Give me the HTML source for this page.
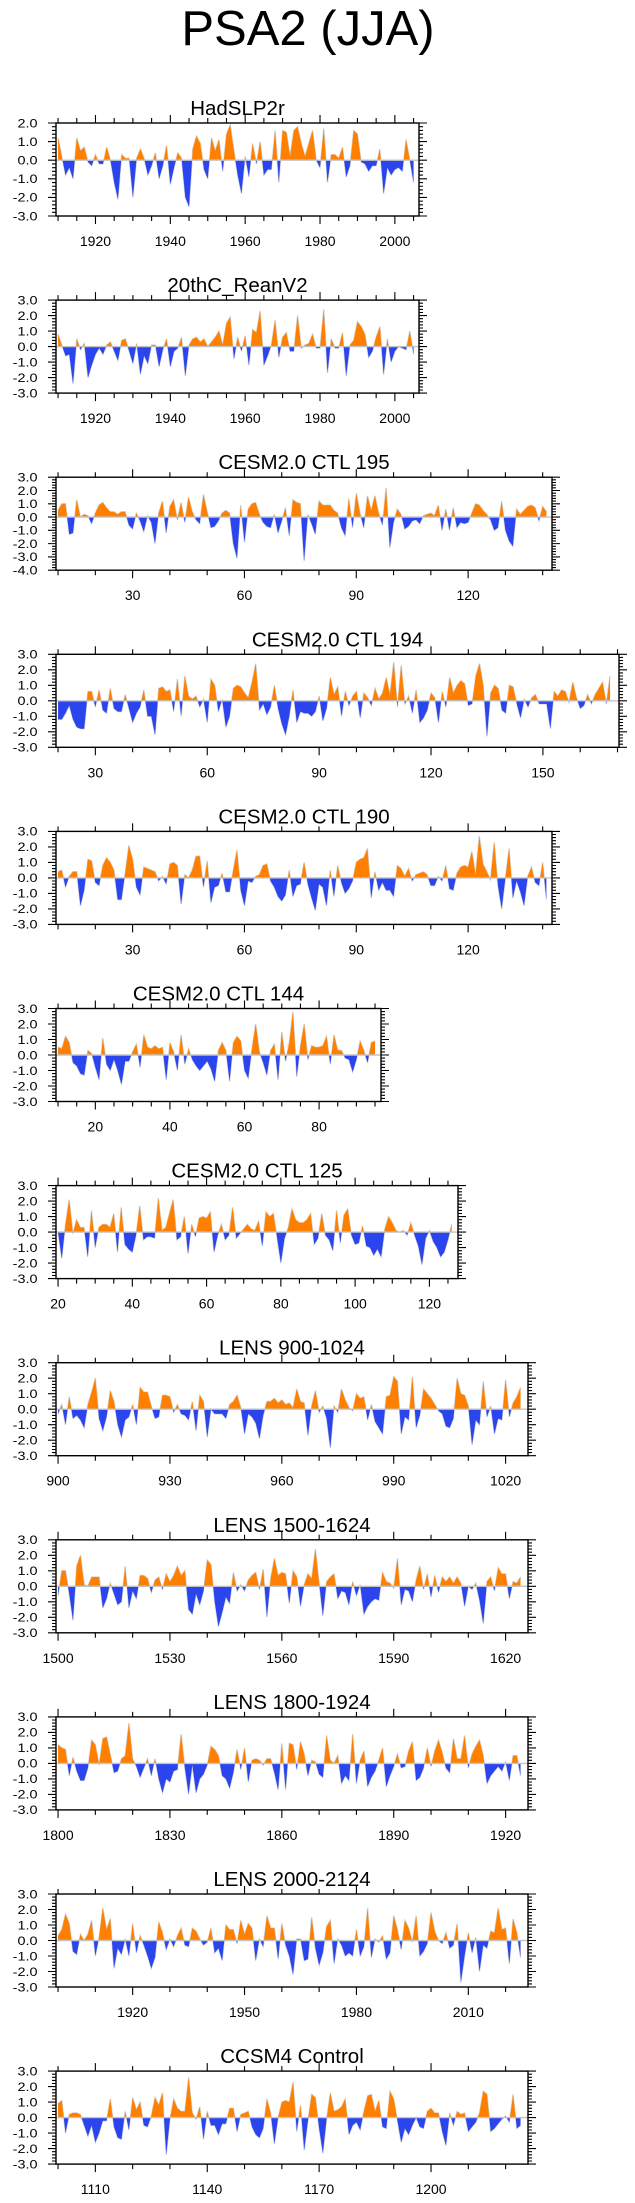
<!DOCTYPE html>
<html><head><meta charset="utf-8"><title>PSA2 (JJA)</title>
<style>html,body{margin:0;padding:0;background:#fff}svg{display:block}text{font-family:"Liberation Sans",Arial,sans-serif;fill:#000}</style>
</head><body>
<svg id="chart" xmlns="http://www.w3.org/2000/svg" width="635" height="2203" viewBox="0 0 635 2203">
<rect width="635" height="2203" fill="#fff"/>
<text x="308" y="45" font-size="49" text-anchor="middle">PSA2 (JJA)</text>
</svg>
<script>
const hadslp2r=[1.2,0.2,-0.8,-0.4,-1.0,1.2,0.5,0.7,-0.1,-0.3,0.3,-0.2,-0.2,0.7,0.0,-1.2,-2.1,0.3,0.1,0.1,-2.0,0.1,0.6,0.1,-0.8,-0.3,0.4,-1.0,-0.3,0.8,-1.3,-0.4,0.4,0.1,-2.0,-2.5,0.6,1.3,0.9,-0.5,-1.0,1.2,0.5,1.1,-0.6,1.4,1.9,0.5,-0.8,-1.8,0.2,-0.9,0.9,-0.2,1.0,-0.8,-0.5,-0.5,1.6,-1.2,1.6,1.5,0.2,1.6,1.8,0.9,0.2,0.9,1.6,0.0,-0.4,1.7,-1.2,0.3,0.3,0.1,0.7,-0.9,-0.3,1.6,1.4,-0.1,-0.2,-0.6,-0.3,-0.3,0.6,-1.8,-0.4,-0.8,-0.5,-0.4,-0.6,1.1,0.0,-1.2];
const reanv2=[0.8,0.1,-0.6,-0.5,-2.4,0.5,-0.2,0.2,-2.0,-1.2,-0.5,-0.1,-0.5,0.1,0.3,-0.3,-0.9,0.4,0.5,-0.3,-1.1,0.2,-1.8,-0.6,-1.1,0.1,0.1,-1.3,-0.2,0.5,-1.3,-0.3,-0.1,0.6,-1.9,0.1,0.5,0.6,0.3,0.5,0.0,0.3,0.6,1.0,0.1,1.5,1.9,-0.8,0.6,-0.3,0.7,-1.2,1.1,0.9,2.3,-1.2,-0.6,0.1,1.7,-0.7,0.6,0.9,-0.3,-0.3,2.0,-0.1,0.1,0.2,0.8,-0.1,-0.1,2.4,-1.7,0.5,-0.1,-0.1,0.9,-1.9,0.1,0.4,1.6,1.3,0.8,-0.7,-0.3,0.6,1.3,-1.8,0.5,-1.0,-0.3,0.0,-0.1,-0.2,1.0,-0.5];
const ctl195=[0.5,1.0,1.0,-1.3,-1.2,1.3,0.0,0.2,0.1,-0.5,0.3,0.9,1.1,0.7,0.4,0.4,0.2,0.4,0.4,-0.6,-0.9,0.3,-0.3,-1.1,0.1,-0.4,-2.0,0.3,1.2,-1.2,0.8,1.3,-0.2,1.1,-0.4,1.5,0.4,-0.2,-0.5,1.7,0.4,-0.8,-0.7,-0.3,0.3,0.5,0.3,-2.0,-3.1,0.9,-1.9,0.6,1.0,1.1,0.2,-0.4,-0.7,-0.8,0.2,-1.2,-0.3,0.7,-1.4,1.3,1.1,1.0,-3.3,0.2,-0.5,-1.3,1.2,0.9,0.9,0.9,0.5,0.3,-0.8,-1.4,1.4,-0.8,1.8,0.3,-0.8,1.6,0.5,1.6,0.3,-0.6,2.2,-2.3,-0.4,0.6,0.2,-0.9,-0.7,-0.3,-0.2,-0.5,0.1,0.2,0.3,0.1,0.9,-1.0,0.6,-1.0,0.7,-0.8,-0.4,-0.5,-0.4,0.3,1.0,0.9,0.5,0.2,-0.2,-1.0,-0.8,1.2,-1.0,-1.8,-2.2,0.6,0.2,0.5,0.8,0.9,0.7,-0.3,0.8,0.4];
const ctl194=[-1.2,-1.2,-0.8,-0.3,-1.2,-1.7,-1.8,-1.8,0.6,0.6,-0.4,0.7,-0.6,-0.8,0.8,-0.5,-0.7,-0.7,0.4,-0.5,-1.4,-0.8,-0.4,0.7,-1.0,-1.0,-2.2,0.8,0.9,0.6,0.7,-0.7,1.4,-1.0,1.6,0.3,0.1,0.3,-0.4,0.1,-1.4,1.4,1.0,-0.7,0.1,-1.7,-1.0,0.8,1.0,0.9,0.5,0.2,1.2,2.4,-0.6,-0.2,-0.9,-0.4,1.0,-0.5,-1.5,-2.2,-1.0,0.7,-1.4,-0.7,-0.8,-0.8,-1.0,-0.7,0.3,-1.3,-0.5,1.5,0.4,0.9,-1.0,0.6,-0.3,0.3,0.6,-1.1,0.5,0.2,-0.3,0.8,0.1,0.5,1.5,0.4,2.5,-0.4,2.3,-0.2,0.3,-0.8,0.7,-1.4,-1.1,-0.6,0.5,0.2,-1.4,0.6,-0.4,1.5,0.5,1.0,1.3,1.1,-0.3,-0.2,1.6,2.4,1.0,-2.3,0.5,1.0,0.8,-0.6,-0.8,1.0,0.9,-0.2,-1.1,0.1,-0.4,0.2,0.4,-0.2,-0.2,-0.2,-1.8,0.6,0.3,0.7,0.6,-0.1,1.2,0.2,-0.5,-0.3,0.4,-0.2,0.4,0.8,1.2,-0.2,1.6];
const ctl190=[0.4,0.5,-0.6,0.1,0.4,0.4,-1.8,-0.8,1.2,1.1,-0.3,-0.5,0.8,1.3,1.0,0.5,-1.4,-1.4,0.3,2.1,1.2,-0.6,-1.1,0.7,0.6,0.5,0.4,-0.2,0.1,-0.4,0.9,1.0,0.8,-1.7,0.2,0.0,0.5,1.4,1.4,-0.6,1.1,-1.6,-0.6,-0.5,0.3,-0.9,-0.9,0.5,1.8,-0.8,-1.8,-0.2,-0.3,0.1,0.2,0.8,0.9,-0.2,-0.6,-1.2,-1.5,-1.1,0.5,-1.2,-0.5,-0.4,1.0,-0.4,-1.3,-2.1,-0.4,-0.6,-1.8,0.5,-1.2,0.8,-0.3,-1.0,-0.7,-0.2,1.0,1.2,1.3,1.9,-1.3,0.4,-0.8,-0.3,-0.8,-0.8,-1.2,0.8,0.6,0.1,0.6,-0.2,0.2,0.3,0.4,0.2,-0.5,-0.5,0.1,-0.2,0.8,-0.7,-0.8,0.3,0.7,0.8,0.7,1.7,0.2,2.7,0.9,0.4,-0.1,2.3,-0.5,-2.0,0.0,1.9,-1.3,-0.2,-0.9,-1.8,0.1,0.7,-0.3,-0.5,1.0,-1.4];
const ctl144=[0.5,0.4,1.2,0.8,-0.5,-0.7,-1.2,-1.3,0.3,0.1,-0.8,-1.6,1.1,-0.6,-1.0,-0.3,-1.0,-1.9,-0.4,-0.4,0.2,0.7,-0.8,1.3,0.5,0.4,0.6,0.4,0.5,-1.6,0.8,0.2,-1.0,1.3,-0.6,0.4,-0.3,-0.7,-1.0,-0.7,-0.4,-0.9,-1.7,0.3,0.8,0.3,-1.7,0.8,1.2,0.9,-1.0,-1.5,0.4,2.0,0.2,-0.5,-1.3,0.3,0.7,-1.6,1.5,-0.4,0.8,2.8,-1.4,0.6,2.0,-0.3,0.6,0.5,0.5,0.6,1.2,-0.6,1.3,0.3,0.3,-0.2,-0.3,-1.1,-0.3,0.9,0.3,-0.5,0.8,0.9];
const ctl125=[0.0,-1.7,0.5,2.1,-0.1,0.8,0.3,0.3,-1.6,1.4,-1.0,0.3,0.5,0.5,0.3,1.2,-1.3,1.6,-0.8,-1.1,-1.3,-0.2,1.7,-0.5,-0.3,-0.3,-0.4,2.2,0.1,0.3,1.2,2.1,-0.5,-0.3,1.0,-1.4,0.5,-0.3,0.9,1.0,0.9,1.3,-1.3,-0.2,0.5,-0.5,-0.2,1.6,-0.4,-0.1,0.2,0.5,0.2,0.1,0.7,-0.9,1.3,1.0,1.2,-0.4,-2.0,-0.4,0.3,1.5,0.8,0.6,0.6,0.8,1.2,-0.8,-0.4,1.2,-0.2,-0.5,-1.2,1.4,-0.7,1.1,1.5,-0.2,-0.8,-0.7,0.4,-0.9,-1.0,-1.5,-1.1,-1.6,0.2,1.0,0.6,0.1,0.0,0.1,-0.2,0.6,-0.2,-0.9,-2.1,-0.4,0.1,-0.6,-1.0,-1.6,-1.3,-0.5,0.5];
const lens900=[-0.3,0.3,-1.0,0.8,-0.6,-0.4,-0.7,-1.2,0.3,1.1,2.0,-0.6,-1.4,-0.5,1.2,0.5,-1.0,-1.8,-0.7,-0.5,0.3,-1.0,1.4,1.1,1.1,0.2,-0.6,-0.5,0.9,0.9,0.8,-0.2,0.3,-0.3,-0.4,-0.7,0.5,-1.4,0.9,0.5,-1.8,0.0,-0.3,-0.3,-0.3,-0.6,0.3,0.5,0.9,0.1,-1.6,-0.3,-0.5,-0.9,-1.9,-0.4,0.5,0.5,0.7,0.4,0.6,0.3,0.4,0.1,1.3,0.5,0.4,-1.7,0.2,1.2,-0.2,0.2,-0.6,-2.5,0.2,-0.2,1.3,0.6,0.1,-0.1,1.0,0.7,0.8,-0.7,0.3,-0.8,-1.2,-1.6,0.8,0.9,2.1,1.8,-1.6,-0.5,-0.7,2.1,-1.2,-0.4,1.3,1.0,0.7,0.3,-0.1,-0.3,-1.1,-1.2,-0.6,2.0,1.0,0.9,0.2,-2.3,-0.7,-1.0,1.8,-0.5,0.2,-1.6,-0.6,-0.7,1.9,-0.5,0.4,0.8,1.4];
const lens1500=[-0.6,1.0,1.0,-0.5,-2.2,1.3,2.0,0.1,0.0,0.6,0.6,0.6,-1.4,-0.8,0.2,-0.5,-1.2,-1.0,1.3,-1.4,-0.3,-0.8,0.7,0.7,0.5,-0.4,0.4,0.6,-0.2,0.8,0.3,0.7,1.3,0.7,1.0,-1.5,-1.8,-0.5,-1.2,-0.3,1.7,1.4,-1.0,-2.6,-1.7,-0.7,-1.1,0.9,-0.3,0.1,-0.3,0.4,0.7,0.9,-0.2,1.1,-2.0,0.5,1.8,0.7,0.9,0.8,-1.1,1.0,0.6,-1.3,0.1,0.8,0.5,2.4,0.2,-1.9,0.3,0.6,0.8,-0.8,-0.3,-0.4,-1.2,0.3,-0.6,0.1,-1.8,-1.3,-1.0,-0.8,-0.9,0.9,0.3,0.2,-0.1,1.8,-1.2,-0.2,-0.3,-1.0,0.4,1.3,-0.2,0.8,-0.7,0.7,-0.4,0.6,0.3,0.6,0.2,0.6,0.2,-1.3,0.0,-0.2,0.2,-0.9,-2.4,0.3,0.6,-0.3,1.2,0.8,0.8,-0.8,0.3,0.2,0.6];
const lens1800=[1.2,1.0,0.9,-0.8,0.4,-0.5,-1.1,-1.1,-0.3,1.5,1.2,-0.1,1.6,1.7,0.6,-0.6,-0.5,0.3,0.5,2.6,0.3,-0.2,-0.9,-0.3,0.3,-0.8,0.3,-1.0,-1.9,-1.0,-1.2,-0.5,-0.4,1.9,-0.3,-2.0,-0.1,-1.9,-1.0,-0.7,-0.1,1.1,0.9,0.5,-0.8,-1.0,-1.6,-0.6,0.9,-0.4,1.0,-1.2,0.2,0.3,0.2,-0.1,0.3,0.3,-0.6,-1.7,1.3,-1.7,1.3,1.2,-0.4,1.4,0.6,-0.8,0.2,0.1,-0.7,-0.9,1.8,0.2,0.0,0.5,-1.3,-0.8,-1.1,1.9,-1.3,0.2,0.8,-1.5,-0.9,-0.5,0.2,1.0,-1.5,-0.8,-0.2,0.6,-0.3,-0.2,0.8,1.4,-1.1,-0.9,-0.3,1.0,-0.2,0.8,1.5,0.7,-0.3,-0.6,1.6,0.3,0.3,1.8,-0.3,0.6,1.1,1.5,0.5,-1.3,-0.8,-0.5,-0.2,-0.5,0.1,-1.1,0.5,0.5,-0.8];
const lens2000=[0.3,0.7,1.7,1.1,-0.7,-0.9,0.4,0.0,0.4,1.3,-1.0,0.2,2.1,0.7,1.4,-1.8,-0.5,-0.9,0.1,-1.0,1.1,-0.8,0.3,-0.3,-1.0,-1.8,-1.1,1.2,0.5,-0.6,0.1,-0.4,0.3,0.8,-0.3,-0.4,0.8,0.6,0.1,-0.3,-0.1,0.8,-0.8,-0.5,-1.3,1.0,0.7,0.7,-0.2,1.3,0.4,1.1,0.8,-1.3,0.1,-0.4,1.6,0.8,0.8,-1.2,1.1,-0.3,-1.0,-2.2,0.1,0.1,-1.3,-1.2,1.5,-0.5,-1.6,-0.8,0.9,1.3,-1.5,0.1,-0.3,-1.0,-0.8,-1.0,0.7,-1.0,-0.4,2.1,-1.1,0.1,-0.1,0.3,-1.2,-0.8,1.6,0.7,-0.6,1.3,0.8,-0.1,1.6,-1.0,-0.7,-0.2,1.8,0.6,0.0,-0.2,0.5,-0.5,-0.3,1.1,-2.7,-1.0,0.5,-0.8,0.2,-2.0,-0.3,-0.5,0.6,0.5,2.1,0.7,0.8,-1.5,1.4,0.5,-1.1];
const ccsm4=[0.9,1.1,-1.0,0.2,0.3,0.3,0.2,-0.5,-1.2,-0.5,-1.6,-1.0,-0.2,-0.2,1.2,-0.6,-1.3,-1.4,0.4,-0.8,1.3,0.5,1.0,-0.5,-0.6,0.1,1.3,0.8,1.6,-2.4,-0.1,1.2,0.6,0.4,0.4,2.6,0.3,-0.1,0.7,-1.4,0.4,-0.5,-0.5,-1.1,-0.4,-0.4,0.6,0.6,-0.9,0.2,0.3,0.4,-0.6,-1.1,-1.3,-0.7,1.2,0.3,-1.7,0.0,1.0,1.1,1.0,2.3,-0.9,0.8,-2.1,-0.2,1.5,1.3,-0.7,-2.3,-0.1,1.6,0.4,0.5,0.7,1.2,-1.1,-0.5,-0.3,-0.8,0.4,1.4,1.5,0.4,1.1,-0.6,-0.7,1.7,1.2,-0.2,-1.6,-0.7,-1.1,-0.5,0.0,-0.6,-0.7,0.4,0.6,0.3,0.3,-0.9,-1.8,0.3,-0.5,0.4,0.2,0.3,-0.9,-0.6,-0.3,0.3,1.7,1.5,-0.9,-0.7,-0.4,-0.1,0.1,-0.3,1.5,-0.7,-0.5];

const panelTitles=["HadSLP2r","20thC_ReanV2","CESM2.0 CTL 195","CESM2.0 CTL 194","CESM2.0 CTL 190","CESM2.0 CTL 144","CESM2.0 CTL 125","LENS 900-1024","LENS 1500-1624","LENS 1800-1924","LENS 2000-2124","CCSM4 Control"];
const seriesList=[hadslp2r,reanv2,ctl195,ctl194,ctl190,ctl144,ctl125,lens900,lens1500,lens1800,lens2000,ccsm4];
const startYears=[1910,1910,10,20,10,10,20,900,1500,1800,1900,1100];
const endAxis=[2006.45,2006.45,142.5,170.4,142.5,96.6,127.7,1026,1626,1926,2026,1226];
const yMins=[-3,-3,-4,-3,-3,-3,-3,-3,-3,-3,-3,-3];
const yMaxs=[2,3,3,3,3,3,3,3,3,3,3,3];
const majorSteps=[20,20,30,30,30,20,20,30,30,30,30,30];
const minorSteps=[5,5,10,10,10,5,5,10,10,10,10,10];
const boxRights=[419,419,552,619,552,381,458,528,528,528,528,528];

const NS="http://www.w3.org/2000/svg";
const svg=document.getElementById('chart');
function mk(tag,attrs,parent){const e=document.createElementNS(NS,tag);for(const k in attrs)e.setAttribute(k,attrs[k]);(parent||svg).appendChild(e);return e;}
const LEFT=56, TOP0=123, STEP=177.1, H=93;
const fmt=v=>v.toFixed(1);

panelTitles.forEach((title,i)=>{
  const data=seriesList[i], s=startYears[i];
  const xmin=s-0.55, xmax=endAxis[i], right=boxRights[i];
  const top=TOP0+i*STEP, bot=top+H;
  const ymin=yMins[i], ymax=yMaxs[i];
  const xs=v=>LEFT+(v-xmin)/(xmax-xmin)*(right-LEFT);
  const ys=v=>bot-(v-ymin)/(ymax-ymin)*H;
  const g=mk('g',{});
  
  
  const t=mk('text',{x:(LEFT+right)/2,y:top-8,'font-size':20.5,'text-anchor':'middle'},g);
  t.textContent=title;
  
  
  // clip paths
  const cid='c'+i;
  const defs=mk('defs',{},g);
  const cpA=mk('clipPath',{id:cid+'a'},defs);
  mk('rect',{x:LEFT,y:top,width:right-LEFT,height:ys(0)-top},cpA);
  const cpB=mk('clipPath',{id:cid+'b'},defs);
  mk('rect',{x:LEFT,y:ys(0),width:right-LEFT,height:bot-ys(0)},cpB);
  let pts=data.map((v,k)=>xs(s+k).toFixed(2)+','+ys(v).toFixed(2));
  const area='M'+xs(s).toFixed(2)+','+ys(0).toFixed(2)+' L'+pts.join(' L')+' L'+xs(s+data.length-1).toFixed(2)+','+ys(0).toFixed(2)+'Z';
  const line=mk('path',{d:'M'+pts.join(' L'),fill:'none',stroke:'#d4d4d4','stroke-width':1.3},g);
  
  
  const pos=mk('path',{d:area,fill:'#ff8000','clip-path':'url(#'+cid+'a)'},g);
  
  
  const neg=mk('path',{d:area,fill:'#2a45ee','clip-path':'url(#'+cid+'b)'},g);
  
  
  const zl=mk('line',{x1:LEFT,x2:right,y1:ys(0),y2:ys(0),stroke:'#c4c4c4','stroke-width':1.4},g);
  
  
  // ticks
  let tk='';
  for(let yv=Math.ceil(xmin/minorSteps[i])*minorSteps[i]; yv<=xmax; yv+=minorSteps[i]){
    const x=xs(yv), maj=(yv%majorSteps[i]===0), L=maj?8:5;
    tk+=`M${x.toFixed(2)},${top}V${top-L}M${x.toFixed(2)},${bot}V${bot+L}`;
    if(maj){const lb=mk('text',{x:x,y:bot+30,'font-size':14,'text-anchor':'middle'},g);lb.textContent=String(yv);
      
      }
  }
  const nMin=Math.round((ymax-ymin)/0.2);
  for(let k=0;k<=nMin;k++){
    const v=ymin+k*0.2, y=ys(v), maj=(k%5===0), L=maj?8:4;
    tk+=`M${LEFT},${y.toFixed(2)}H${LEFT-L}M${right},${y.toFixed(2)}H${right+L}`;
    if(maj){const lb=mk('text',{x:0,y:0,'font-size':12,'text-anchor':'end',transform:`translate(37.5,${(y+4.3).toFixed(2)}) scale(1.2,1)`},g);lb.textContent=fmt(v);
      
      }
  }
  const ticks=mk('path',{d:tk,stroke:'#000','stroke-width':1.1,fill:'none'},g);
  
  
  const box=mk('rect',{x:LEFT,y:top,width:right-LEFT,height:H,fill:'none',stroke:'#000','stroke-width':1.4},g);
  
  
});
</script>
</body></html>
